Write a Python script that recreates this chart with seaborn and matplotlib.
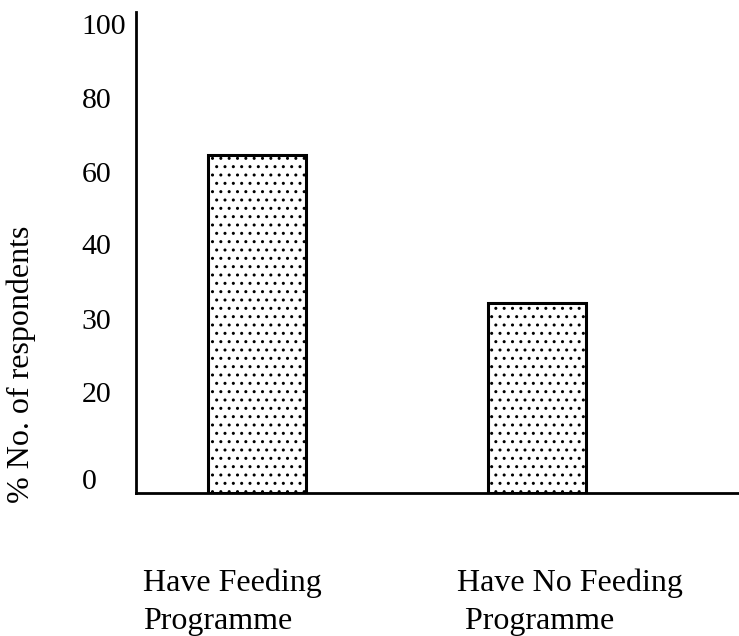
import matplotlib
matplotlib.use('Agg')
import matplotlib.pyplot as plt
import seaborn as sns

# data
categories = ['Have Feeding\nProgramme', 'Have No Feeding\n Programme']
percent = [64, 36]
ytick_labels = ['0', '20', '30', '40', '60', '80', '100']
ytick_pos = [2.6, 19.1, 33.0, 47.2, 60.8, 74.7, 88.7]

sns.set_style('white')
plt.rcParams['font.family'] = ['Liberation Serif', 'DejaVu Serif']
plt.rcParams['hatch.linewidth'] = 1.0
plt.rcParams['hatch.color'] = '#333333'
plt.rcParams['text.color'] = 'black'
plt.rcParams['axes.labelcolor'] = 'black'
plt.rcParams['ytick.color'] = 'black'

fig = plt.figure(figsize=(7.39, 6.36), dpi=100)
ax = fig.add_axes([136/739, 1 - 493/636, 603/739, 481/636])

sns.barplot(x=list(range(len(percent))), y=percent, color='white',
            edgecolor='black', linewidth=2.2, width=0.35, saturation=1, ax=ax)
for p in ax.patches:
    p.set_hatch('..')

ax.set_xlim(-0.43, 1.72)
ax.set_ylim(0, 91)
ax.set_xticks([])
ax.set_yticks(ytick_pos)
ax.set_yticklabels(ytick_labels, fontsize=21.5)
ax.tick_params(axis='y', length=0, pad=39)
for lab in ax.get_yticklabels():
    lab.set_horizontalalignment('left')

for s in ['top', 'right']:
    ax.spines[s].set_visible(False)
for s in ['left', 'bottom']:
    ax.spines[s].set_linewidth(2)
    ax.spines[s].set_color('black')

ax.set_ylabel('% No. of respondents', fontsize=23)
ax.yaxis.set_label_coords(-0.166, 0.268)

# category labels below the axis
fig.text(143/739, 1 - 569/636, categories[0], fontsize=23, va='top', ha='left', linespacing=1.4)
fig.text(457/739, 1 - 569/636, categories[1], fontsize=23, va='top', ha='left', linespacing=1.4)

plt.savefig('out.png', dpi=100)
